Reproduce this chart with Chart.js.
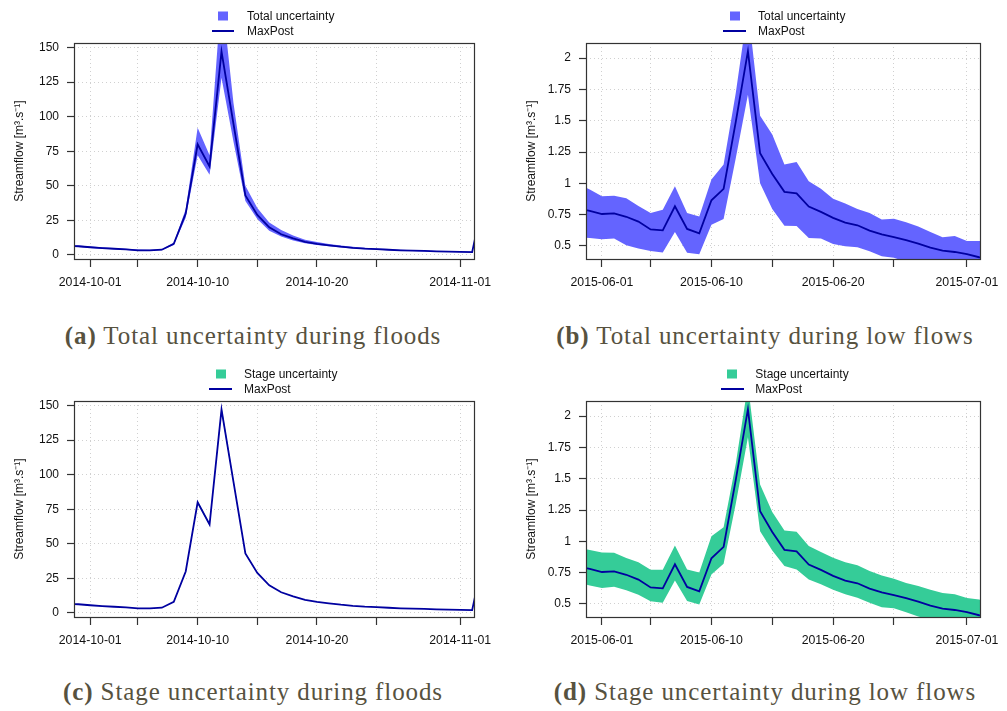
<!DOCTYPE html>
<html>
<head>
<meta charset="utf-8">
<script src="https://cdn.jsdelivr.net/npm/chart.js@4.4.1/dist/chart.umd.min.js"></script>
<style>
  body { margin: 0; background: #fff; }
  #wrap { position: relative; width: 1007px; height: 711px; overflow: hidden; background: #fff;
          font-family: "Liberation Sans", Arial, sans-serif; }
  #wrap canvas { position: absolute; }
  .legtxt { position: absolute; font-size: 12px; color: #111; white-space: nowrap; transform: translateY(-50%); }
  .sw { position: absolute; width: 10px; height: 9px; transform: translate(-50%, -50%); }
  .ln { position: absolute; height: 2px; transform: translateY(-50%); }
  .cap { position: absolute; font-family: "Liberation Serif", "Times New Roman", serif; font-size: 25px;
         color: #57523f; white-space: nowrap; letter-spacing: 0.9px; transform: translate(-50%, -50%); }
</style>
</head>
<body>
<div id="wrap">
  <canvas id="cA" width="500" height="300" style="left:0px;top:0px"></canvas>
  <canvas id="cB" width="507" height="300" style="left:500px;top:0px"></canvas>
  <canvas id="cC" width="500" height="300" style="left:0px;top:358px"></canvas>
  <canvas id="cD" width="507" height="300" style="left:500px;top:358px"></canvas>
</div>
<script>
// ---------------- DATA ----------------
// Flood event: day offsets relative to 2014-10-01
const floodDays = [-2,-1,0,1,2,3,4,5,6,7,8,9,10,11,12,13,14,15,16,17,18,19,20,21,22,23,24,25,26,27,28,29,30,31,32,33];
const floodMaxPost = [6.6,6.3,5.6,5.0,4.5,4.0,3.4,3.4,3.8,8.0,30,80,64,147,95,43,29,20,15,12,9.5,8,7,6,5.2,4.6,4.2,3.8,3.4,3.1,2.9,2.6,2.4,2.2,2.1,42];
const floodTotalUpper = [7.3,6.9,6.2,5.6,5.0,4.5,3.9,3.8,4.2,8.8,33,92,72,190,110,50,34,23.5,18,14,11,9.3,8,6.8,5.9,5.2,4.7,4.3,3.8,3.5,3.2,2.9,2.7,2.5,2.4,47];
const floodTotalLower = [6.0,5.7,5.0,4.5,4.1,3.6,3.1,3.0,3.4,7.3,27,72,58,128,82,39,26,17.5,13.3,10.5,8.5,7.2,6.3,5.4,4.7,4.1,3.8,3.4,3.1,2.8,2.6,2.3,2.2,2.0,1.9,38];
const floodStageUpper = [6.7,6.4,5.7,5.05,4.55,4.05,3.45,3.45,3.85,8.1,30.4,81,64.8,149,96.2,43.5,29.3,20.2,15.2,12.1,9.6,8.1,7.1,6.05,5.25,4.65,4.25,3.85,3.45,3.15,2.95,2.65,2.45,2.25,2.15,42.5];
const floodStageLower = [6.5,6.2,5.5,4.95,4.45,3.95,3.35,3.35,3.75,7.9,29.6,79,63.2,145,93.8,42.5,28.7,19.8,14.8,11.9,9.4,7.9,6.9,5.95,5.15,4.55,4.15,3.75,3.35,3.05,2.85,2.55,2.35,2.15,2.05,41.5];
const floodXTicks = [0,4,9,14,19,24,31];
const floodXLabels = ['2014-10-01','','2014-10-10','','2014-10-20','','2014-11-01'];
const floodYTicks = [0,25,50,75,100,125,150];
const floodYLabels = ['0','25','50','75','100','125','150'];

// Low-flow period: day offsets relative to 2015-06-01
const lowDays = [-2,-1,0,1,2,3,4,5,6,7,8,9,10,11,12,13,14,15,16,17,18,19,20,21,22,23,24,25,26,27,28,29,30,31,32];
const lowMaxPost = [0.80,0.78,0.755,0.76,0.733,0.695,0.632,0.625,0.817,0.636,0.601,0.865,0.956,1.49,2.055,1.24,1.075,0.932,0.92,0.815,0.772,0.724,0.687,0.665,0.623,0.592,0.571,0.546,0.518,0.487,0.463,0.452,0.435,0.41,0.40];
const lowTotalUpper = [1.0,0.95,0.896,0.90,0.88,0.82,0.763,0.79,0.976,0.763,0.736,1.03,1.15,1.72,2.40,1.54,1.39,1.15,1.17,1.016,0.957,0.877,0.838,0.795,0.763,0.712,0.718,0.69,0.656,0.612,0.569,0.58,0.54,0.54,0.53];
const lowTotalLower = [0.57,0.563,0.553,0.56,0.505,0.48,0.46,0.447,0.612,0.445,0.433,0.67,0.715,1.2,1.707,1.0,0.795,0.662,0.66,0.564,0.56,0.516,0.497,0.49,0.457,0.417,0.405,0.375,0.355,0.34,0.32,0.31,0.30,0.28,0.27];
const lowStageUpper = [0.95,0.93,0.911,0.909,0.866,0.832,0.773,0.773,0.967,0.776,0.752,1.04,1.113,1.62,2.25,1.453,1.234,1.087,1.076,0.962,0.914,0.869,0.832,0.81,0.763,0.728,0.702,0.667,0.643,0.614,0.588,0.577,0.548,0.535,0.525];
const lowStageLower = [0.67,0.648,0.627,0.638,0.609,0.574,0.521,0.51,0.688,0.524,0.495,0.736,0.821,1.3,1.83,1.081,0.927,0.803,0.776,0.696,0.657,0.614,0.577,0.55,0.51,0.473,0.465,0.434,0.40,0.375,0.355,0.345,0.33,0.32,0.31];
const lowXTicks = [0,4,9,14,19,24,30];
const lowXLabels = ['2015-06-01','','2015-06-10','','2015-06-20','','2015-07-01'];
const lowYTicks = [0.5,0.75,1,1.25,1.5,1.75,2];
const lowYLabels = ['0.5','0.75','1','1.25','1.5','1.75','2'];

const yTitle = 'Streamflow [m\u00B3.s\u207B\u00B9]';
const lineLabel = 'MaxPost';
const totalLabel = 'Total uncertainty';
const stageLabel = 'Stage uncertainty';
const captions = [
  ['(a)', 'Total uncertainty during floods'],
  ['(b)', 'Total uncertainty during low flows'],
  ['(c)', 'Stage uncertainty during floods'],
  ['(d)', 'Stage uncertainty during low flows']
];

// ---------------- STYLE ----------------
const TOTAL_COLOR = '#6464ff';
const STAGE_COLOR = '#35cc98';
const LINE_COLOR = '#0000a0';
const FONT = '"Liberation Sans", Arial, sans-serif';

const boxPlugin = {
  id: 'rbox',
  afterDatasetsDraw(chart) {
    const { ctx, chartArea: a } = chart;
    ctx.save();
    ctx.strokeStyle = '#333';
    ctx.lineWidth = 1.2;
    const l = Math.round(a.left) + 0.5, t = Math.round(a.top) + 0.5;
    ctx.strokeRect(l, t, Math.round(a.right) - Math.round(a.left), Math.round(a.bottom) - Math.round(a.top));
    ctx.restore();
  }
};

function pts(xs, ys) { return xs.map((x, i) => ({ x: x, y: ys[i] })); }

function makePanel(id, o) {
  new Chart(document.getElementById(id), {
    type: 'line',
    data: {
      datasets: [
        { label: lineLabel, data: pts(o.days, o.mid), borderColor: LINE_COLOR, borderWidth: 1.8,
          pointRadius: 0, tension: 0, fill: false },
        { label: o.bandLabel, data: pts(o.days, o.up), borderWidth: 0, borderColor: 'rgba(0,0,0,0)',
          backgroundColor: o.bandColor, pointRadius: 0, tension: 0, fill: '+1' },
        { label: 'lower', data: pts(o.days, o.lo), borderWidth: 0, borderColor: 'rgba(0,0,0,0)',
          pointRadius: 0, tension: 0, fill: false }
      ]
    },
    options: {
      responsive: false, animation: false, events: [],
      layout: { padding: { left: 0, top: 43, right: o.padRight, bottom: 0 } },
      plugins: { legend: { display: false }, tooltip: { enabled: false } },
      scales: {
        x: {
          type: 'linear', bounds: 'data', min: o.xmin, max: o.xmax,
          afterBuildTicks: s => { s.ticks = o.xticks.map(v => ({ value: v })); },
          afterFit: s => { s.height = 41; },
          ticks: { autoSkip: false, maxRotation: 0, minRotation: 0, padding: 8, color: '#111',
                   font: { family: FONT, size: 12.3 }, callback: (v, i) => o.xlabels[i] },
          grid: { color: '#d0d0d0', lineWidth: 1, drawTicks: true, tickLength: 8, tickColor: '#333', tickWidth: 1.2 },
          border: { display: false, dash: [1, 3] }
        },
        y: {
          type: 'linear', bounds: 'data', min: o.ymin, max: o.ymax,
          afterBuildTicks: s => { s.ticks = o.yticks.map(v => ({ value: v })); },
          afterFit: s => { s.width = o.yAxisW; },
          ticks: { autoSkip: false, padding: 8, color: '#111',
                   font: { family: FONT, size: 12 }, callback: (v, i) => o.ylabels[i] },
          grid: { color: '#d0d0d0', lineWidth: 1, drawTicks: true, tickLength: 7, tickColor: '#333', tickWidth: 1.2 },
          border: { display: false, dash: [1, 3] },
          title: { display: true, text: yTitle, color: '#111', font: { family: FONT, size: 12 },
                   padding: { top: o.titlePad, bottom: 0 } }
        }
      }
    },
    plugins: [boxPlugin]
  });
}

const floodCommon = { days: floodDays, mid: floodMaxPost, xmin: -1.36, xmax: 32.17, ymin: -2.9, ymax: 153.2,
  xticks: floodXTicks, xlabels: floodXLabels, yticks: floodYTicks, ylabels: floodYLabels,
  yAxisW: 74, padRight: 23, titlePad: 12 };
const lowCommon = { days: lowDays, mid: lowMaxPost, xmin: -1.31, xmax: 31.08, ymin: 0.396, ymax: 2.12,
  xticks: lowXTicks, xlabels: lowXLabels, yticks: lowYTicks, ylabels: lowYLabels,
  yAxisW: 86, padRight: 19, titlePad: 24 };

makePanel('cA', Object.assign({}, floodCommon, { up: floodTotalUpper, lo: floodTotalLower, bandColor: TOTAL_COLOR, bandLabel: totalLabel }));
makePanel('cB', Object.assign({}, lowCommon, { up: lowTotalUpper, lo: lowTotalLower, bandColor: TOTAL_COLOR, bandLabel: totalLabel }));
makePanel('cC', Object.assign({}, floodCommon, { up: floodStageUpper, lo: floodStageLower, bandColor: STAGE_COLOR, bandLabel: stageLabel }));
makePanel('cD', Object.assign({}, lowCommon, { up: lowStageUpper, lo: lowStageLower, bandColor: STAGE_COLOR, bandLabel: stageLabel }));

// ---------------- LEGENDS & CAPTIONS (HTML text) ----------------
const wrap = document.getElementById('wrap');
function el(cls, styles, text) {
  const d = document.createElement('div');
  d.className = cls;
  Object.assign(d.style, styles);
  if (text !== undefined) d.textContent = text;
  wrap.appendChild(d);
  return d;
}
const legends = [
  { oy: 0,   sx: 223,   l1: 211.7, l2: 234.3, tx: 247,   label: totalLabel, color: TOTAL_COLOR },
  { oy: 0,   sx: 735,   l1: 723.3, l2: 746,   tx: 758,   label: totalLabel, color: TOTAL_COLOR },
  { oy: 358, sx: 220.7, l1: 209.3, l2: 232.3, tx: 244,   label: stageLabel, color: STAGE_COLOR },
  { oy: 358, sx: 732.3, l1: 721,   l2: 743.7, tx: 755.3, label: stageLabel, color: STAGE_COLOR }
];
legends.forEach(g => {
  el('sw', { left: g.sx + 'px', top: (g.oy + 16) + 'px', background: g.color });
  el('legtxt', { left: g.tx + 'px', top: (g.oy + 16) + 'px' }, g.label);
  el('ln', { left: g.l1 + 'px', width: (g.l2 - g.l1) + 'px', top: (g.oy + 31) + 'px', background: LINE_COLOR });
  el('legtxt', { left: g.tx + 'px', top: (g.oy + 31) + 'px' }, lineLabel);
});
const capPos = [[253, 336], [765, 336], [253, 692], [765, 692]];
captions.forEach((c, i) => {
  const d = el('cap', { left: capPos[i][0] + 'px', top: capPos[i][1] + 'px' });
  const b = document.createElement('b');
  b.textContent = c[0];
  d.appendChild(b);
  d.appendChild(document.createTextNode(' ' + c[1]));
});
</script>
</body>
</html>
